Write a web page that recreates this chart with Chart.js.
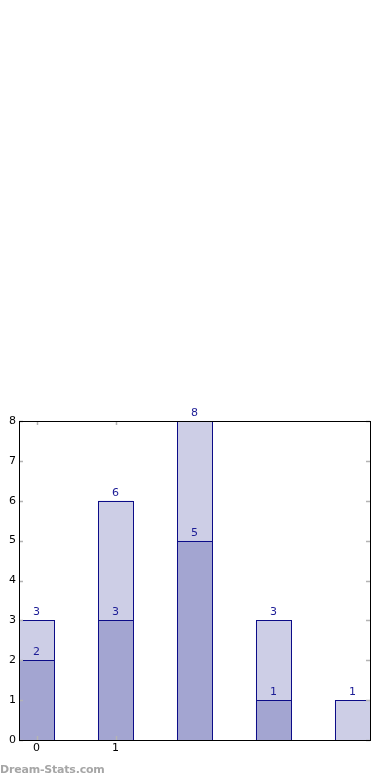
<!DOCTYPE html>
<html>
<head>
<meta charset="utf-8">
<script src="https://cdn.jsdelivr.net/npm/chart.js@4/dist/chart.umd.min.js"></script>
<style>
html,body{margin:0;padding:0;background:#fff;}
#wrap{position:relative;width:390px;height:780px;}
#wm{position:absolute;left:0;top:763px;font-family:"DejaVu Sans";font-size:11px;font-weight:bold;color:#a6a6a6;letter-spacing:-0.2px;}
</style>
</head>
<body>
<div id="wrap">
<canvas id="c" width="390" height="780"></canvas>
<div id="wm">Dream-Stats.com</div>
</div>
<script>
const categories = [0, 1, 2, 3, 4];
const bottomValues = [2, 3, 5, 1, 0];
const topValues = [1, 3, 3, 2, 1];
const xTickValues = [0, 1];
const xTickLabels = ['0', '1'];
const yTickValues = [0, 1, 2, 3, 4, 5, 6, 7, 8];

const seriesValues = [bottomValues, topValues];
const fills = ['#a3a5d1', '#cdcee6'];
const edge = '#0c0c88';

const datasets = seriesValues.map((vals, i) => ({
  data: categories.map((c, j) => ({x: c, y: vals[j]})),
  backgroundColor: fills[i],
  borderWidth: 0,
  barPercentage: 0.444,
  categoryPercentage: 1.0
}));

const framePlugin = {
  id: 'frame',
  afterDatasetsDraw(chart) {
    const ctx = chart.ctx;
    const a = chart.chartArea;
    const xs = chart.scales.x, ys = chart.scales.y;
    ctx.save();
    ctx.strokeStyle = edge;
    ctx.lineWidth = 1;
    chart.data.datasets.forEach((ds, i) => {
      const meta = chart.getDatasetMeta(i);
      meta.data.forEach((bar, j) => {
        if (seriesValues[i][j] === 0) return;
        const p = bar.getProps(['x', 'y', 'base', 'width']);
        const l = Math.round(p.x - p.width / 2), r = Math.round(p.x + p.width / 2);
        const t = Math.round(p.y), b = Math.round(p.base);
        ctx.strokeRect(l + 0.5, t + 0.5, r - l, b - t);
      });
    });
    ctx.strokeStyle = '#b4b4b4';
    ctx.lineWidth = 1.5;
    ctx.beginPath();
    yTickValues.forEach(v => {
      const y = Math.round(ys.getPixelForValue(v)) + 0.5;
      ctx.moveTo(a.left, y); ctx.lineTo(a.left + 4, y);
      ctx.moveTo(a.right - 4, y); ctx.lineTo(a.right, y);
    });
    xTickValues.forEach(v => {
      const x = Math.round(xs.getPixelForValue(v)) + 0.5;
      ctx.moveTo(x, a.top); ctx.lineTo(x, a.top + 4);
      ctx.moveTo(x, a.bottom - 4); ctx.lineTo(x, a.bottom + 1);
    });
    ctx.stroke();
    ctx.strokeStyle = '#000';
    ctx.lineWidth = 1;
    ctx.strokeRect(Math.round(a.left) + 0.5, Math.round(a.top) + 0.5,
                   Math.round(a.right - a.left), Math.round(a.bottom - a.top));
    ctx.fillStyle = '#1c1c96';
    ctx.font = '11px "DejaVu Sans"';
    ctx.textAlign = 'center';
    ctx.textBaseline = 'alphabetic';
    chart.data.datasets.forEach((ds, i) => {
      const meta = chart.getDatasetMeta(i);
      meta.data.forEach((bar, j) => {
        if (seriesValues[i][j] === 0) return;
        let cum = 0;
        for (let k = 0; k <= i; k++) cum += seriesValues[k][j];
        ctx.fillText(String(cum), bar.x, bar.y - 5);
      });
    });
    ctx.restore();
  }
};

new Chart(document.getElementById('c'), {
  type: 'bar',
  data: {datasets},
  options: {
    responsive: false,
    animation: false,
    layout: {padding: {top: 421, right: 20, left: 0, bottom: 0}},
    plugins: {legend: {display: false}, tooltip: {enabled: false}},
    scales: {
      x: {
        type: 'linear',
        stacked: true,
        offset: false,
        min: -0.222,
        max: 4.222,
        grid: {display: false, drawTicks: false, offset: false},
        border: {display: false},
        afterBuildTicks(axis) { axis.ticks = xTickValues.map(v => ({value: v})); },
        afterFit(axis) { axis.height = 40; },
        ticks: {
          padding: 2,
          color: '#000',
          font: {family: 'DejaVu Sans', size: 11},
          maxRotation: 0,
          callback: (v, i) => xTickLabels[i]
        }
      },
      y: {
        stacked: true,
        min: 0,
        max: 8,
        grid: {display: false, drawTicks: false},
        border: {display: false},
        afterBuildTicks(axis) { axis.ticks = yTickValues.map(v => ({value: v})); },
        afterFit(axis) { axis.width = 19; },
        ticks: {
          padding: 3,
          color: '#000',
          font: {family: 'DejaVu Sans', size: 11},
          callback: v => String(v)
        }
      }
    }
  },
  plugins: [framePlugin]
});
</script>
</body>
</html>
